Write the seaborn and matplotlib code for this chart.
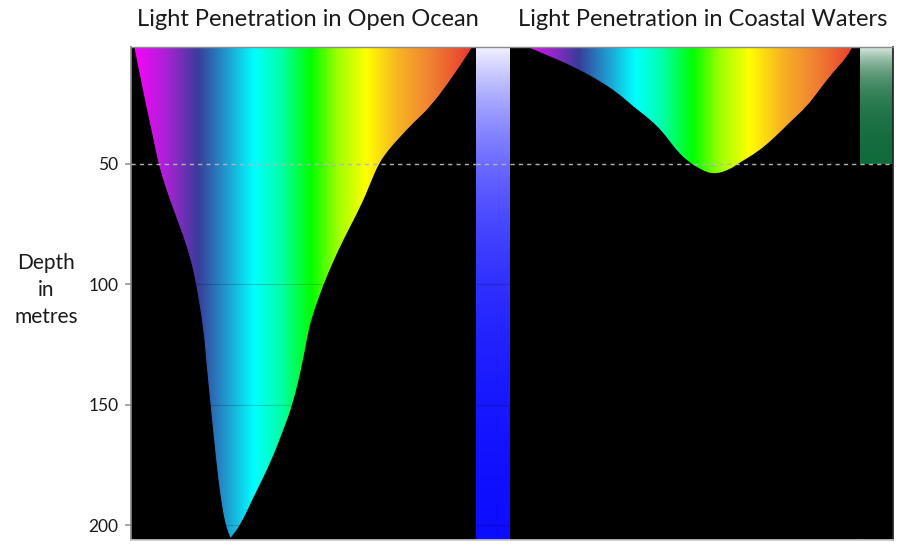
import numpy as np
import matplotlib
matplotlib.use("Agg")
import matplotlib.pyplot as plt
import seaborn as sns
from matplotlib.colors import LinearSegmentedColormap
from matplotlib.path import Path
from matplotlib.patches import PathPatch

# Open ocean: edges of the light band, x as % across the spectrum
ocean_left_depth = [0, 12.2, 26.3, 40.0, 50.0, 60.8, 70.3, 81.5, 91.1, 100.2,
                    118.9, 132.7, 150.1, 174.2, 188.3, 200.0, 205.8]
ocean_left_x = [0.6, 2.3, 4.3, 6.4, 7.8, 10.1, 12.5, 15.4, 17.4, 18.8,
                20.9, 21.7, 22.9, 24.6, 25.8, 27.2, 28.8]
ocean_right_depth = [0, 12.2, 26.3, 32.9, 40.0, 44.2, 50.0, 57.9, 67.8, 81.5,
                     91.1, 100.2, 111.9, 118.9, 132.7, 150.1, 160.5, 174.2,
                     188.3, 200.0, 205.8]
ocean_right_x = [99.7, 94.2, 87.0, 82.0, 77.4, 74.8, 71.9, 69.6, 66.7, 61.7,
                 58.6, 55.9, 53.0, 51.6, 49.9, 47.0, 44.3, 40.6, 35.7, 31.9, 28.8]

# Coastal waters (rounded bottom, so drawn as one continuous edge)
coast_left_depth = [0, 5.5, 9.7, 15.1, 20.5, 26.3, 31.7, 37.1, 42.9, 48.3, 52.5, 54.6]
coast_left_x = [2.3, 11.4, 18.0, 24.9, 30.6, 35.1, 40.0, 43.7, 46.6, 50.0, 54.3, 58.3]
coast_right_depth = [54.6, 52.5, 49.6, 45.4, 40.0, 32.9, 26.3, 19.2, 12.2, 5.5, 0]
coast_right_x = [58.3, 62.9, 65.7, 70.6, 75.1, 80.0, 84.9, 88.6, 92.3, 96.5, 98.5]

depth_ticks = [50, 100, 150, 200]
grid_depths = [100, 150, 200]
photic_depth = 50

spectrum_pos = [0.0, 0.096, 0.194, 0.281, 0.357, 0.435, 0.522, 0.60, 0.682, 0.774, 0.87, 1.0]
spectrum_col = ["#ff00ff", "#b020d8", "#3a3c9a", "#1ea0d2", "#00ffff", "#00ffa8",
                "#00ff00", "#a0ff00", "#ffff00", "#f8b423", "#f08232", "#e8322d"]

y_top, y_bot = 1.4, 206.2

sns.set_theme(style="white")
plt.rcParams['font.family'] = ['Lato', 'DejaVu Sans']

spec = LinearSegmentedColormap.from_list("spec", list(zip(spectrum_pos, spectrum_col)))

fig, axes = plt.subplots(1, 4, figsize=(9.16, 5.51), dpi=100, sharey=True,
                         gridspec_kw={"width_ratios": [345, 34, 350, 33], "wspace": 0})
fig.subplots_adjust(left=131 / 916, right=893 / 916, bottom=1 - 540 / 551, top=1 - 47 / 551)
ax_ocean, ax_blue, ax_coast, ax_green = axes


def smooth_edges(edges):
    # each edge is drawn as a rounded curve through its end points;
    # the measured points in between act as quadratic control points
    verts, codes = [], []
    for k, edge in enumerate(edges):
        pts = [np.array(p, float) for p in edge]
        verts += [pts[0], (pts[0] + pts[1]) / 2]
        codes += [Path.MOVETO if k == 0 else Path.LINETO, Path.LINETO]
        for i in range(1, len(pts) - 1):
            verts += [pts[i], (pts[i] + pts[i + 1]) / 2]
            codes += [Path.CURVE3, Path.CURVE3]
        verts.append(pts[-1])
        codes.append(Path.LINETO)
    verts.append(verts[0])
    codes.append(Path.CLOSEPOLY)
    return Path(verts, codes)


def spectrum_panel(ax, left_d, left_x, right_d, right_x, pointed):
    im = ax.imshow(np.linspace(0, 1, 512)[None, :], cmap=spec, aspect="auto",
                   extent=[0, 100, y_bot, 0], interpolation="bicubic", zorder=1)
    if right_d[0] < right_d[-1]:
        right_d, right_x = right_d[::-1], right_x[::-1]
    left = list(zip(left_x, left_d))
    right = list(zip(right_x, right_d))
    edges = [left, right] if pointed else [left + right[1:]]
    outline = smooth_edges(edges)
    clip = PathPatch(outline, facecolor="none", edgecolor="none")
    ax.add_patch(clip)
    im.set_clip_path(clip)
    ax.add_patch(PathPatch(outline, facecolor="none", edgecolor="black", lw=0.8, zorder=2))
    ax.set_xlim(0, 100)


spectrum_panel(ax_ocean, ocean_left_depth, ocean_left_x, ocean_right_depth, ocean_right_x, True)
spectrum_panel(ax_coast, coast_left_depth, coast_left_x, coast_right_depth, coast_right_x, False)

# depth colour bars
d = np.linspace(0, y_bot, 400)
t = np.exp(-d / 58)[:, None]
blue = t * np.array([0.97, 0.97, 1.0]) + (1 - t) * np.array([0.02, 0.02, 1.0])
ax_blue.imshow(blue[:, None, :], aspect="auto", extent=[0, 1, y_bot, 0], zorder=1)
ax_blue.set_xlim(0, 1)

dg = np.linspace(0, photic_depth, 200)
tg = np.exp(-dg / 12)[:, None]
green = tg * np.array([0.96, 0.97, 0.96]) + (1 - tg) * np.array([0.05, 0.41, 0.22])
ax_green.imshow(green[:, None, :], aspect="auto", extent=[0, 1, photic_depth, 0], zorder=1)
ax_green.set_xlim(0, 1)

for ax in axes:
    ax.set_facecolor("black")
    for g in grid_depths:
        ax.axhline(g, color="black", alpha=0.18, lw=0.8, zorder=3)
    ax.axhline(photic_depth, color="#b4b4b4", lw=1.0, ls=(0, (3, 3)), zorder=4)
    ax.set_xticks([])
    sns.despine(ax=ax, left=True, right=True, top=False, bottom=False)
    ax.spines["top"].set_color("#8a8a8a")
    ax.spines["bottom"].set_color("#c8c8c8")
    ax.spines["top"].set_linewidth(1.0)

ax_ocean.spines["left"].set_visible(True)
ax_ocean.spines["left"].set_color("#8a8a8a")
ax_green.spines["right"].set_visible(True)
ax_green.spines["right"].set_color("#222222")

ax_ocean.set_ylim(y_bot, y_top)
ax_ocean.set_yticks(depth_ticks)
ax_ocean.tick_params(axis="y", left=True, length=4, color="#999999", labelsize=12.5,
                     pad=5, labelcolor="#1a1a1a")
for ax in axes[1:]:
    ax.tick_params(axis="y", left=False)

fig.text(46 / 916, 1 - 290 / 551, "Depth\nin\nmetres", ha="center", va="center",
         fontsize=15, linespacing=1.45, color="#1a1a1a")
fig.text(308 / 916, 1 - 19 / 551, "Light Penetration in Open Ocean", ha="center",
         va="center", fontsize=17, color="#1a1a1a")
fig.text(703 / 916, 1 - 19 / 551, "Light Penetration in Coastal Waters", ha="center",
         va="center", fontsize=17, color="#1a1a1a")

fig.savefig("out.png", dpi=100, facecolor="white")
